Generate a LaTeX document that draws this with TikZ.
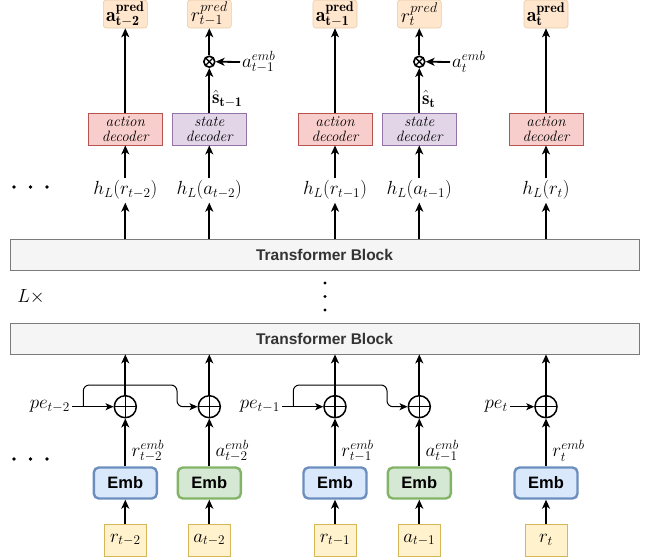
\RequirePackage{fix-cm}
\documentclass[tikz,border=0pt]{standalone}
\usepackage{fontspec}
\newfontfamily\helv{Liberation Sans}
\usetikzlibrary{arrows.meta}
\definecolor{predfill}{HTML}{FFE6CC}
\definecolor{predline}{HTML}{E6CBA8}
\definecolor{actfill}{HTML}{F8CECC}
\definecolor{actline}{HTML}{B85450}
\definecolor{stfill}{HTML}{E1D5E7}
\definecolor{stline}{HTML}{9673A6}
\definecolor{rfill}{HTML}{DAE8FC}
\definecolor{rline}{HTML}{6C8EBF}
\definecolor{afill}{HTML}{D5E8D4}
\definecolor{aline}{HTML}{82B366}
\definecolor{infill}{HTML}{FFF2CC}
\definecolor{inline}{HTML}{D6B656}
\definecolor{tbfill}{HTML}{F5F5F5}
\definecolor{tbline}{HTML}{7A7A7A}
\definecolor{tbtext}{HTML}{333333}
\tikzset{
  lab/.style={inner sep=2pt, font=\fontsize{19}{22}\selectfont},
  predbox/.style={draw=predline, fill=predfill, rounded corners=3pt, minimum width=44pt, minimum height=28pt, inner sep=0pt, line width=0.6pt, font=\fontsize{20}{22}\selectfont},
  decbox/.style={minimum width=74pt, minimum height=32pt, inner sep=0pt, align=center, line width=0.8pt, font=\fontsize{15}{15}\selectfont\itshape},
  actdec/.style={decbox, draw=actline, fill=actfill},
  stdec/.style={decbox, draw=stline, fill=stfill},
  tblock/.style={draw=tbline, fill=tbfill, line width=0.8pt, minimum width=629pt, minimum height=31pt, inner sep=0pt, text=tbtext, font=\helv\bfseries\fontsize{15.5}{18}\selectfont},
  embbox/.style={rounded corners=5pt, line width=2.4pt, minimum width=63pt, minimum height=31pt, inner sep=0pt, font=\helv\bfseries\fontsize{16.5}{18}\selectfont},
  embr/.style={embbox, draw=rline, fill=rfill},
  emba/.style={embbox, draw=aline, fill=afill},
  inbox/.style={draw=inline, fill=infill, line width=0.8pt, minimum width=42pt, minimum height=32pt, inner sep=0pt, font=\fontsize{19}{22}\selectfont},
  oplusnode/.style={circle, draw, line width=1.5pt, minimum size=22pt, inner sep=0pt,
    path picture={\draw[line width=1.5pt] (path picture bounding box.north) -- (path picture bounding box.south) (path picture bounding box.west) -- (path picture bounding box.east);}},
  otimesnode/.style={circle, draw, line width=1.6pt, minimum size=11pt, inner sep=0pt,
    path picture={\draw[line width=1.4pt] (path picture bounding box.north west) -- (path picture bounding box.south east) (path picture bounding box.north east) -- (path picture bounding box.south west);}},
  arr/.style={-{Stealth[length=9pt,width=8pt,inset=2.5pt]}, line width=1.8pt},
  tarr/.style={-{Stealth[length=8pt,width=7pt,inset=2pt]}, line width=1pt},
}
\begin{document}
\begin{tikzpicture}[x=1pt,y=-1pt]
\useasboundingbox (0,0) rectangle (657,560);

% top prediction boxes
\node[predbox] (p1) at (125.3,14) {$\mathbf{a}^{\mathbf{pred}}_{\mathbf{t-2}}$};
\node[predbox] (p2) at (209.3,14) {$r^{pred}_{t-1}$};
\node[predbox] (p3) at (335,14) {$\mathbf{a}^{\mathbf{pred}}_{\mathbf{t-1}}$};
\node[predbox] (p4) at (419.3,14) {$r^{pred}_{t}$};
\node[predbox] (p5) at (546,14) {$\mathbf{a}^{\mathbf{pred}}_{\mathbf{t}}$};

% otimes
\node[otimesnode] (o2) at (209.3,61.7) {};
\node[otimesnode] (o4) at (419.3,61.7) {};
\node[lab, anchor=west] (ae2) at (240,62) {$a^{emb}_{t-1}$};
\node[lab, anchor=west] (ae4) at (450,62) {$a^{emb}_{t}$};
\node[lab, anchor=west] (sh2) at (210,99) {$\hat{\mathbf{s}}_{\mathbf{t-1}}$};
\node[lab, anchor=west] (sh4) at (420,99) {$\hat{\mathbf{s}}_{\mathbf{t}}$};

% decoders
\node[actdec] (d1) at (125.3,129) {action\\decoder};
\node[stdec]  (d2) at (209.3,129) {state\\decoder};
\node[actdec] (d3) at (335,129) {action\\decoder};
\node[stdec]  (d4) at (419.3,129) {state\\decoder};
\node[actdec] (d5) at (546,129) {action\\decoder};

% hidden labels
\node[lab] (h1) at (125.3,190) {$h_L(r_{t-2})$};
\node[lab] (h2) at (209.3,190) {$h_L(a_{t-2})$};
\node[lab] (h3) at (335,190) {$h_L(r_{t-1})$};
\node[lab] (h4) at (419.3,190) {$h_L(a_{t-1})$};
\node[lab] (h5) at (546,190) {$h_L(r_{t})$};

% transformer blocks
\node[tblock] (tb2) at (324.5,255) {Transformer Block};
\node[tblock] (tb1) at (324.5,338.5) {Transformer Block};
\node[lab] (Lx) at (31,297) {$L\times$};

% oplus
\node[oplusnode] (s1) at (125.3,406.7) {};
\node[oplusnode] (s2) at (209.3,406.7) {};
\node[oplusnode] (s3) at (335,406.7) {};
\node[oplusnode] (s4) at (419.3,406.7) {};
\node[oplusnode] (s5) at (546,406.7) {};

\node[lab, anchor=east] (pe1) at (72,406.7) {$pe_{t-2}$};
\node[lab, anchor=east] (pe3) at (282,406.7) {$pe_{t-1}$};
\node[lab, anchor=east] (pe5) at (510,406.7) {$pe_{t}$};

% embeddings
\node[embr] (e1) at (125.3,483) {Emb};
\node[emba] (e2) at (209.3,483) {Emb};
\node[embr] (e3) at (335,483) {Emb};
\node[emba] (e4) at (419.3,483) {Emb};
\node[embr] (e5) at (546,483) {Emb};

\node[lab, anchor=west] (re1) at (129.5,451) {$r^{emb}_{t-2}$};
\node[lab, anchor=west] (re2) at (213.5,451) {$a^{emb}_{t-2}$};
\node[lab, anchor=west] (re3) at (339.2,451) {$r^{emb}_{t-1}$};
\node[lab, anchor=west] (re4) at (423.5,451) {$a^{emb}_{t-1}$};
\node[lab, anchor=west] (re5) at (550.2,451) {$r^{emb}_{t}$};

% inputs
\node[inbox] (i1) at (125.3,540) {$r_{t-2}$};
\node[inbox] (i2) at (209.3,540) {$a_{t-2}$};
\node[inbox] (i3) at (335,540) {$r_{t-1}$};
\node[inbox] (i4) at (419.3,540) {$a_{t-1}$};
\node[inbox] (i5) at (546,540) {$r_{t}$};

% dots
\fill (14,187) circle (1.8pt) (30.5,187) circle (1.8pt) (47,187) circle (1.8pt);
\fill (14,459) circle (1.8pt) (30.5,459) circle (1.8pt) (47,459) circle (1.8pt);
\fill (325,283) circle (1.6pt) (325,296.5) circle (1.6pt) (325,310) circle (1.6pt);

% connectors: top
\foreach \i in {1,3,5} {
  \draw[arr] (d\i.north) -- (p\i.south);
}
\foreach \i in {2,4} {
  \draw[arr] (d\i.north) -- (o\i.south);
  \draw[arr] (o\i.north) -- (p\i.south);
}
\draw[arr] (ae2.west) -- (o2.east);
\draw[arr] (ae4.west) -- (o4.east);

\foreach \i in {1,...,5} {
  \draw[arr] (h\i.north) -- (d\i.south);
  \draw[arr] (tb2.north -| h\i.south) -- ([yshift=-1pt]h\i.south);
  \draw[arr] (s\i.north) -- (tb1.south -| s\i.north);
  \draw[arr] (e\i.north) -- (s\i.south);
  \draw[arr] (i\i.north) -- (e\i.south);
}

% positional encodings
\draw[tarr] (pe1.east) -- (s1.west);
\draw[tarr] (pe3.east) -- (s3.west);
\draw[tarr] (pe5.east) -- (s5.west);
\coordinate (b1) at (83.3,406.7);
\coordinate (k1) at (177,385);
\coordinate (b3) at (293.3,406.7);
\coordinate (k3) at (387,385);
\draw[tarr, rounded corners=6pt] (b1) |- (k1) |- (s2.west);
\draw[tarr, rounded corners=6pt] (b3) |- (k3) |- (s4.west);
\end{tikzpicture}
\end{document}
